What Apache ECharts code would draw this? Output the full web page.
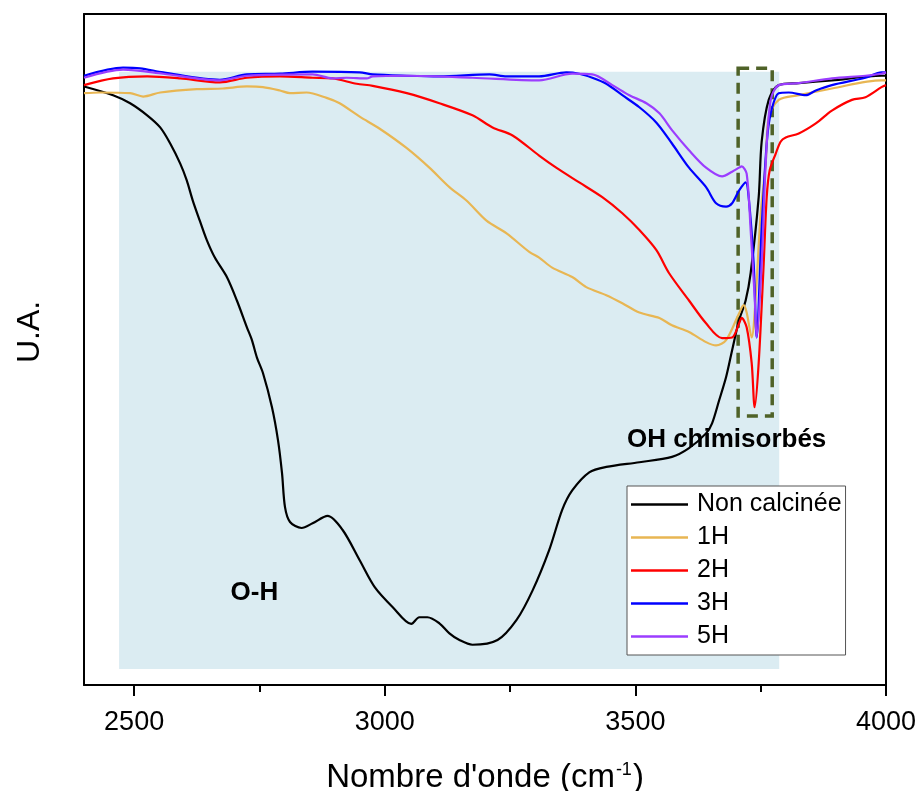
<!DOCTYPE html>
<html>
<head>
<meta charset="utf-8">
<script src="https://cdn.jsdelivr.net/npm/echarts@6/dist/echarts.min.js"></script>
<style>
html,body{margin:0;padding:0;background:#fff;}
#chart{width:919px;height:791px;}
</style>
</head>
<body>
<div id="chart"></div>
<script>
// ---- data (wavenumber cm-1, intensity in arbitrary units) ----
const seriesNames = ['Non calcinée', '1H', '2H', '3H', '5H'];
const majorTicks = [2500, 3000, 3500, 4000];
const minorTicks = [2750, 3250, 3750];

const nonCalcinee = [
  [2400,89.2],[2458,87.9],[2492,86.7],[2526,84.9],[2552,83.1],[2572,80.7],[2592,77.7],[2605,75.2],
  [2617,72.2],[2631,69.2],[2645,66.3],[2661,63.7],[2685,60.8],[2705,57.3],[2725,53.3],[2735,51.4],
  [2745,48.8],[2757,46.5],[2775,41.4],[2787,36.5],[2795,31.6],[2801,26.5],[2811,24.3],[2834,23.4],
  [2856,24.1],[2886,25.2],[2916,23.1],[2950,18.6],[2980,14.6],[3016,11.6],[3053,9.1],[3069,10.1],
  [3085,10.1],[3109,9.2],[3129,7.7],[3149,6.7],[3175,6.0],[3225,6.7],[3263,9.7],[3295,14.1],
  [3328,20.1],[3354,26.1],[3374,29.0],[3408,31.7],[3442,32.5],[3508,33.2],[3573,34.0],[3607,35.3],
  [3641,37.5],[3653,39.0],[3667,42.4],[3681,45.9],[3693,49.9],[3707,54.4],[3720,57.3],[3730,61.4],
  [3746,72.7],[3752,81.0],[3766,87.2],[3786,89.4],[3826,89.7],[3892,90.1],[3991,90.8],[4000,90.8]
];
const h1 = [
  [2400,88.2],[2432,88.3],[2492,88.2],[2518,87.7],[2552,88.3],[2625,88.8],[2677,88.9],[2725,89.2],
  [2757,89.1],[2791,88.6],[2811,88.2],[2844,88.3],[2884,87.5],[2910,86.7],[2950,84.7],[2990,82.9],
  [3044,80.0],[3089,77.1],[3129,74.2],[3163,72.2],[3203,69.2],[3243,67.3],[3289,64.5],[3308,63.7],
  [3334,62.2],[3374,60.8],[3402,59.3],[3442,58.1],[3474,56.9],[3508,55.5],[3548,54.7],[3573,53.6],
  [3607,52.6],[3641,51.1],[3661,50.6],[3681,51.4],[3707,55.4],[3716,56.6],[3722,55.5],[3732,51.8],
  [3740,57.8],[3750,70.3],[3760,77.7],[3766,84.6],[3786,87.2],[3826,87.9],[3892,88.9],[3991,90.1],[4000,90.1]
];
const h2 = [
  [2400,89.4],[2458,90.4],[2526,90.7],[2592,90.4],[2671,89.8],[2725,90.5],[2791,90.7],[2856,90.5],
  [2896,90.4],[2944,89.6],[2976,89.3],[3044,88.2],[3109,86.7],[3175,84.9],[3215,83.1],[3255,81.9],
  [3308,78.9],[3342,77.1],[3388,74.9],[3434,72.7],[3474,70.3],[3508,67.8],[3542,64.8],[3567,61.4],
  [3607,57.3],[3641,53.9],[3673,51.7],[3693,51.8],[3707,53.9],[3712,54.7],[3722,53.3],[3732,48.0],
  [3738,41.4],[3746,48.0],[3756,62.8],[3762,72.7],[3768,76.7],[3780,79.2],[3790,81.0],[3800,81.6],
  [3826,82.2],[3860,83.7],[3892,85.6],[3932,87.2],[3959,87.6],[3991,89.1],[4000,89.4]
];
const h3 = [
  [2400,90.8],[2478,92.0],[2512,91.9],[2558,91.3],[2671,90.2],[2725,91.0],[2791,91.1],[2856,91.4],
  [2950,91.3],[2976,91.0],[3044,90.8],[3109,90.7],[3209,91.0],[3243,90.7],[3308,90.7],[3362,91.3],
  [3388,91.1],[3414,90.5],[3442,89.6],[3474,87.9],[3508,86.1],[3542,83.8],[3573,80.7],[3607,77.1],
  [3641,74.2],[3661,71.8],[3681,71.3],[3693,71.8],[3707,73.7],[3720,74.9],[3726,72.7],[3736,62.8],
  [3742,51.8],[3752,68.2],[3762,80.7],[3770,85.2],[3786,88.2],[3806,88.3],[3840,87.9],[3860,88.6],
  [3892,89.4],[3959,90.5],[3991,91.3],[4000,91.3]
];
const h5 = [
  [2400,90.5],[2478,91.7],[2558,91.1],[2671,90.1],[2725,90.8],[2856,91.0],[2896,90.4],[2924,90.5],
  [2964,90.4],[2976,90.7],[3044,90.8],[3175,90.5],[3308,90.1],[3374,91.1],[3414,91.0],[3454,89.4],
  [3488,87.9],[3522,86.7],[3548,85.2],[3573,82.7],[3607,79.7],[3641,77.1],[3673,75.8],[3693,76.5],
  [3707,77.1],[3712,77.3],[3722,76.2],[3730,67.8],[3738,57.8],[3742,51.8],[3752,62.8],[3760,77.7],
  [3770,87.2],[3786,89.4],[3826,89.7],[3892,90.4],[3959,90.8],[3991,91.1],[4000,91.3]
];
// shaded O-H region and dashed box around chemisorbed OH band: [x0, yBottom, x1, yTop]
const shadedRegion = [[2470, 2.4, 3787, 91.4]];
const chemBox = [[3705, 40.1, 3773, 91.9]];
// annotations: [x, y, text]
const annotations = [[3683, 36.5, 'OH chimisorbés'], [2741, 13.7, 'O-H']];

const FONT = 'Arial, "Liberation Sans", sans-serif';
const colors = ['#000000', '#e8b653', '#ff0000', '#0000ff', '#9b3dff'];
const dataSets = [nonCalcinee, h1, h2, h3, h5];

const chart = echarts.init(document.getElementById('chart'), null, {renderer: 'canvas'});

function rectRenderer(fill, stroke, lineWidth, dash) {
  return function (params, api) {
    const p0 = api.coord([api.value(0), api.value(1)]);
    const p1 = api.coord([api.value(2), api.value(3)]);
    return {
      type: 'rect',
      shape: {x: p0[0], y: p1[1], width: p1[0] - p0[0], height: p0[1] - p1[1]},
      style: {fill: fill, stroke: stroke, lineWidth: lineWidth, lineDash: dash}
    };
  };
}

const lineSeries = seriesNames.map((n, i) => ({
  name: n,
  type: 'line',
  data: dataSets[i],
  showSymbol: false,
  symbol: 'none',
  smooth: 0.3,
  lineStyle: {color: colors[i], width: 2.2},
  itemStyle: {color: colors[i]},
  z: 5,
  animation: false
}));

chart.setOption({
  animation: false,
  textStyle: {fontFamily: FONT},
  grid: {left: 84, right: 33, top: 14, bottom: 106, containLabel: false, outerBoundsMode: 'none'},
  xAxis: [
    {
      type: 'value', min: 2400, max: 4000, position: 'bottom',
      axisLine: {show: true, lineStyle: {color: '#000', width: 2}},
      axisTick: {show: true, customValues: majorTicks, length: 11, inside: false, lineStyle: {color: '#000', width: 2}},
      axisLabel: {show: true, customValues: majorTicks, fontSize: 27, color: '#000', margin: 24, fontFamily: FONT,
        formatter: v => String(v), hideOverlap: false, showMinLabel: true, showMaxLabel: true},
      splitLine: {show: false},
      name: "Nombre d'onde (cm{sup|-1})",
      nameLocation: 'middle',
      nameGap: 76,
      nameTextStyle: {
        fontSize: 33, color: '#000', fontFamily: FONT,
        rich: {sup: {fontSize: 18, color: '#000', fontFamily: FONT, verticalAlign: 'top', padding: [0, 1, 16, 1]}}
      }
    },
    {
      type: 'value', min: 2400, max: 4000, position: 'bottom', gridIndex: 0,
      axisLine: {show: false},
      axisTick: {show: true, customValues: minorTicks, length: 7, lineStyle: {color: '#000', width: 2}},
      axisLabel: {show: false},
      splitLine: {show: false}
    },
    {
      type: 'value', min: 2400, max: 4000, position: 'top',
      axisLine: {show: true, lineStyle: {color: '#000', width: 2}},
      axisTick: {show: false}, axisLabel: {show: false}, splitLine: {show: false}
    }
  ],
  yAxis: [
    {
      type: 'value', min: 0, max: 100, position: 'left',
      axisLine: {show: true, lineStyle: {color: '#000', width: 2}},
      axisTick: {show: false}, axisLabel: {show: false}, splitLine: {show: false}
    },
    {
      type: 'value', min: 0, max: 100, position: 'right',
      axisLine: {show: true, lineStyle: {color: '#000', width: 2}},
      axisTick: {show: false}, axisLabel: {show: false}, splitLine: {show: false}
    }
  ],
  legend: {
    data: seriesNames,
    orient: 'vertical',
    left: 627,
    top: 486,
    padding: [6, 4, 6, 4],
    icon: 'rect',
    itemWidth: 57,
    itemHeight: 2.5,
    itemGap: 8,
    backgroundColor: '#fff',
    borderColor: '#555',
    borderWidth: 1,
    borderRadius: 0,
    textStyle: {fontSize: 25, color: '#000', fontFamily: FONT, lineHeight: 25, padding: [0, 0, 0, 4]}
  },
  graphic: [
    {
      type: 'text',
      x: 30, y: 332,
      rotation: Math.PI / 2,
      style: {text: 'U.A.', fontSize: 32, fill: '#000', font: '32px ' + FONT, align: 'center', verticalAlign: 'middle'}
    }
  ],
  series: [
    {
      type: 'custom', name: 'shade', data: shadedRegion,
      encode: {x: [0, 2], y: [1, 3]},
      renderItem: rectRenderer('#dbecf2', null, 0, null),
      z: 1, silent: true
    },
    {
      type: 'custom', name: 'box', data: chemBox,
      encode: {x: [0, 2], y: [1, 3]},
      renderItem: rectRenderer('none', '#4f6228', 3.5, [11, 7]),
      z: 3, silent: true
    },
    ...lineSeries,
    {
      type: 'scatter', name: 'labels', data: annotations,
      symbolSize: 1, itemStyle: {opacity: 0}, z: 10, silent: true,
      label: {
        show: true, position: [0, 0], align: 'center', verticalAlign: 'middle',
        formatter: p => p.value[2],
        fontSize: 26, fontWeight: 'bold', color: '#000', textBorderWidth: 0, opacity: 1, fontFamily: FONT
      }
    }
  ]
});
</script>
</body>
</html>
